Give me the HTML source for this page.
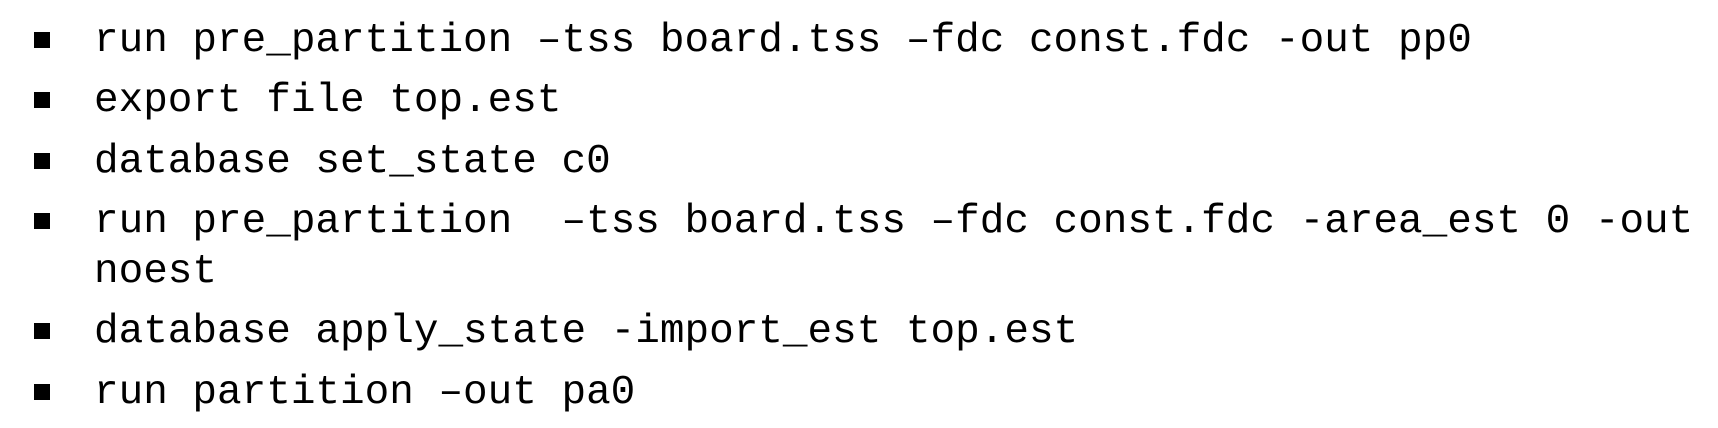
<!DOCTYPE html>
<html><head><meta charset="utf-8"><style>
html,body{margin:0;padding:0;background:#fff;}
body{width:1718px;height:428px;position:relative;overflow:hidden;}
.t{position:absolute;left:94px;font-family:"Liberation Mono",monospace;font-size:41px;line-height:49px;color:#000;white-space:pre;}
.b{position:absolute;left:34px;width:16px;height:16px;background:#000;}
</style></head><body>
<div class="b" style="top:32px"></div><div class="t" style="top:17px">run pre_partition –tss board.tss –fdc const.fdc -out pp0</div>
<div class="b" style="top:92px"></div><div class="t" style="top:77px">export file top.est</div>
<div class="b" style="top:153px"></div><div class="t" style="top:138px">database set_state c0</div>
<div class="b" style="top:213px"></div><div class="t" style="top:198px">run pre_partition  –tss board.tss –fdc const.fdc -area_est 0 -out</div>
<div class="t" style="top:248px">noest</div>
<div class="b" style="top:323px"></div><div class="t" style="top:308px">database apply_state -import_est top.est</div>
<div class="b" style="top:384px"></div><div class="t" style="top:369px">run partition –out pa0</div>
</body></html>
